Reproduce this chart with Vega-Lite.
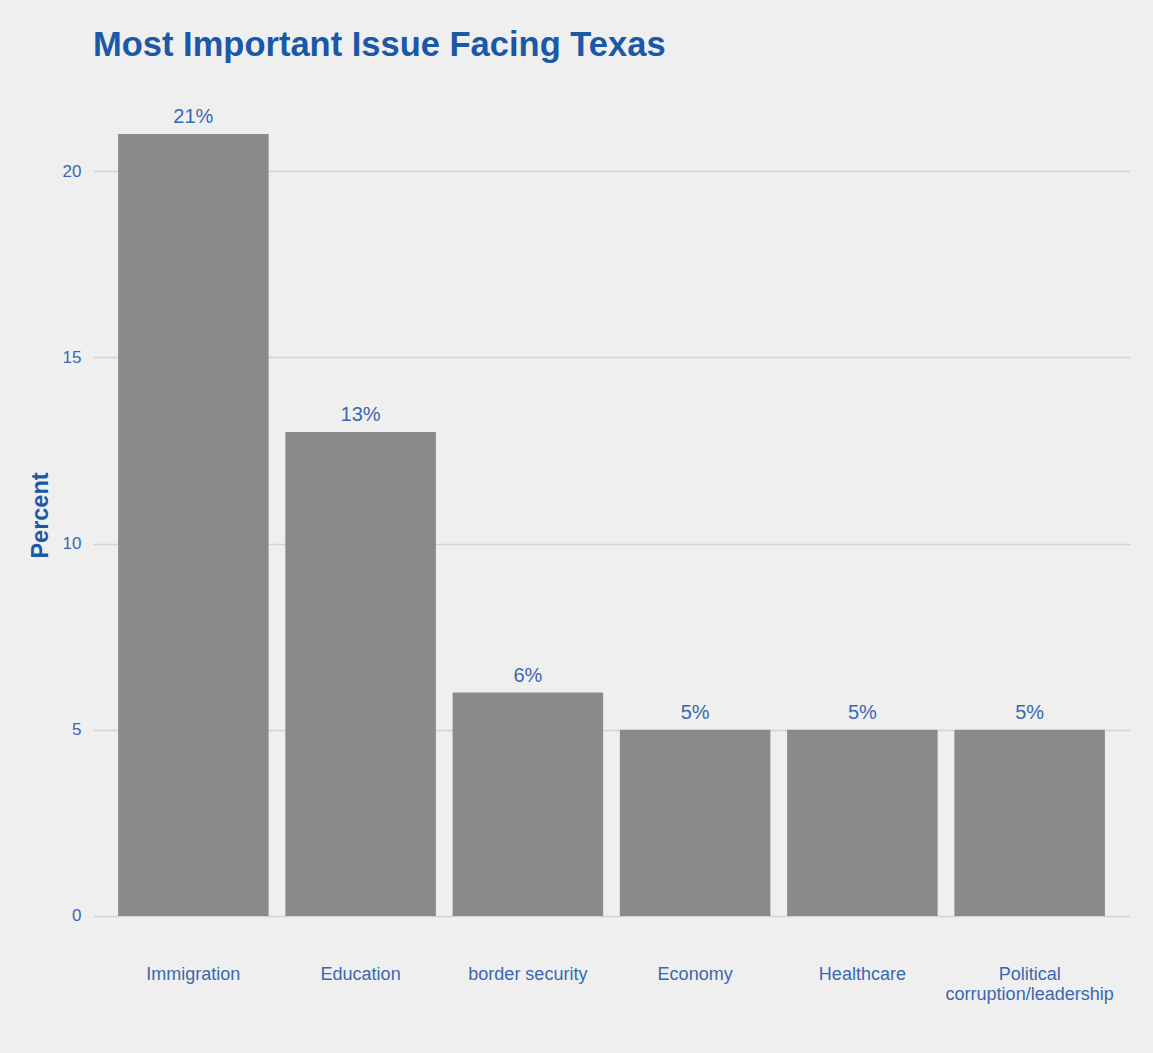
{
  "$schema": "https://vega.github.io/schema/vega-lite/v6.json",
  "autosize": "none",
  "width": 1037,
  "height": 860,
  "padding": {"left": 93, "top": 95, "right": 23, "bottom": 98},
  "background": "#efefef",
  "config": {
    "view": {"stroke": null},
    "font": "Liberation Sans"
  },
  "title": {
    "text": "Most Important Issue Facing Texas",
    "anchor": "start",
    "frame": "group",
    "fontSize": 34.5,
    "fontWeight": "bold",
    "color": "#1b58a6",
    "font": "Liberation Sans",
    "baseline": "alphabetic",
    "offset": 5
  },
  "data": {
    "values": [
      {"issue": "Immigration", "pct": 21, "label": "21%"},
      {"issue": "Education", "pct": 13, "label": "13%"},
      {"issue": "border security", "pct": 6, "label": "6%"},
      {"issue": "Economy", "pct": 5, "label": "5%"},
      {"issue": "Healthcare", "pct": 5, "label": "5%"},
      {"issue": "Political corruption/leadership", "pct": 5, "label": "5%"}
    ]
  },
  "encoding": {
    "x": {
      "field": "issue",
      "type": "nominal",
      "sort": null,
      "scale": {"paddingInner": 0.1, "paddingOuter": 0.15},
      "axis": {
        "title": null,
        "labelAngle": 0,
        "labelAlign": "center",
        "labelBaseline": "top",
        "labelFontSize": 18,
        "labelColor": "#3a68ae",
        "labelPadding": 10,
        "labelLimit": 400,
        "labelLineHeight": 20,
        "labelExpr": "datum.label == 'Political corruption/leadership' ? split(datum.label, ' ') : datum.label",
        "ticks": false,
        "domain": false,
        "grid": false
      }
    },
    "y": {
      "field": "pct",
      "type": "quantitative",
      "scale": {"domain": [-1.05, 22.05], "nice": false, "zero": false},
      "axis": {
        "title": "Percent",
        "titleFontSize": 23.5,
        "titleFontWeight": "bold",
        "titleColor": "#1b58a6",
        "titlePadding": 10,
        "titleY": 420,
        "values": [0, 5, 10, 15, 20],
        "labelFontSize": 17,
        "labelColor": "#3a68ae",
        "labelPadding": 12,
        "ticks": false,
        "domain": false,
        "grid": true,
        "gridColor": "#d2d2d2",
        "gridWidth": 1.5
      }
    }
  },
  "layer": [
    {
      "mark": {"type": "bar", "color": "#8a8a8a"},
      "encoding": {"y2": {"datum": 0}}
    },
    {
      "mark": {"type": "text", "baseline": "bottom", "dy": -7, "fontSize": 20, "color": "#3a68ae"},
      "encoding": {"text": {"field": "label"}}
    }
  ]
}
